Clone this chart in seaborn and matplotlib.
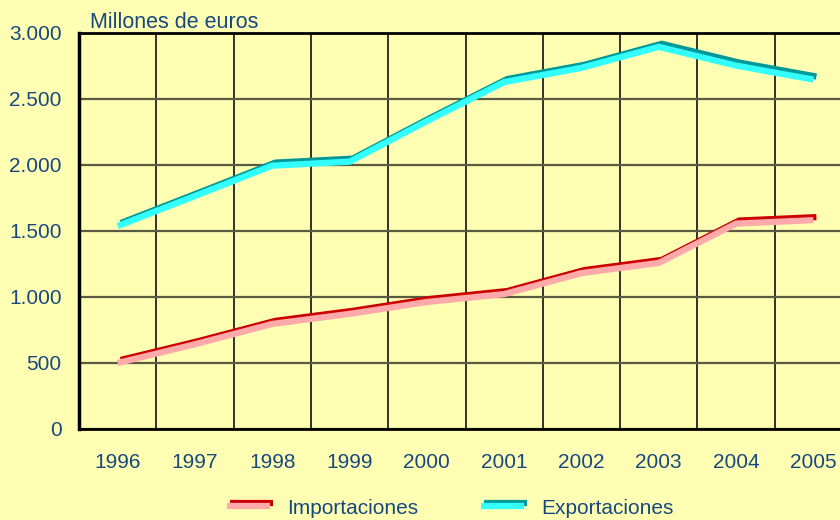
import matplotlib
matplotlib.use('Agg')
import matplotlib.pyplot as plt
import matplotlib.patheffects as pe
from matplotlib.ticker import FuncFormatter, FixedLocator
import seaborn as sns
import pandas as pd

years = ['1996', '1997', '1998', '1999', '2000', '2001', '2002', '2003', '2004', '2005']
importaciones = [500, 642, 796, 872, 962, 1022, 1181, 1258, 1556, 1582]
exportaciones = [1537, 1765, 1995, 2025, 2332, 2628, 2736, 2895, 2753, 2647]
y_ticks = [0, 500, 1000, 1500, 2000, 2500, 3000]

bg = '#FFFFB4'
txt = '#17487F'

sns.set_style('white')
plt.rcParams['font.family'] = ['Liberation Sans', 'DejaVu Sans']

df = pd.DataFrame({'year': years, 'Importaciones': importaciones,
                   'Exportaciones': exportaciones})

fig = plt.figure(figsize=(8.4, 5.2), dpi=100, facecolor=bg)
ax = fig.add_axes([79 / 840, 91 / 520, 773 / 840, 396 / 520])
ax.set_facecolor(bg)

# light line on top, darker copy offset up-right
sns.lineplot(data=df, x='year', y='Importaciones', ax=ax, color='#FFAAAA', lw=4.5,
             label='Importaciones', solid_capstyle='butt', solid_joinstyle='miter',
             path_effects=[pe.Stroke(offset=(2.2, 2.2), foreground='#CC0000', linewidth=4.5),
                           pe.Normal()])
sns.lineplot(data=df, x='year', y='Exportaciones', ax=ax, color='#33FFFF', lw=4.5,
             label='Exportaciones', solid_capstyle='butt', solid_joinstyle='miter',
             path_effects=[pe.Stroke(offset=(2.2, 2.2), foreground='#009999', linewidth=4.5),
                           pe.Normal()])

ax.set_xlim(-0.5, len(years) - 0.5)
ax.set_ylim(0, 3000)
ax.set_yticks(y_ticks)
ax.yaxis.set_major_formatter(FuncFormatter(lambda v, p: f'{int(v):,}'.replace(',', '.')))
ax.xaxis.set_minor_locator(FixedLocator([i + 0.5 for i in range(len(years) - 1)]))

ax.grid(False)
ax.yaxis.grid(True, which='major', color='#5A5A42', lw=1.6)
ax.xaxis.grid(True, which='minor', color='#222222', lw=1.3)
ax.set_axisbelow(True)

ax.tick_params(axis='both', which='both', length=0, labelsize=15, labelcolor=txt)
ax.tick_params(axis='y', pad=12.5)
ax.tick_params(axis='x', pad=17)
ax.set_xlabel('')
ax.set_ylabel('')

for s in ['left', 'top', 'bottom']:
    ax.spines[s].set_visible(True)
    ax.spines[s].set_color('black')
ax.spines['left'].set_linewidth(2.5)
ax.spines['top'].set_linewidth(2)
ax.spines['bottom'].set_linewidth(2)
ax.spines['right'].set_visible(False)

fig.text(90 / 840, 1 - 28 / 520, 'Millones de euros', fontsize=15.5, color=txt,
         ha='left', va='baseline')

ax.get_legend().remove()
handles, labels = ax.get_legend_handles_labels()
leg = fig.legend(handles, labels, loc='center', ncol=2, frameon=False,
                 bbox_to_anchor=(450 / 840, 1 - 508 / 520), fontsize=15,
                 handlelength=2.1, handletextpad=0.8, columnspacing=3.0)
for t in leg.get_texts():
    t.set_color(txt)

fig.savefig('out.png', dpi=100, facecolor=bg)
